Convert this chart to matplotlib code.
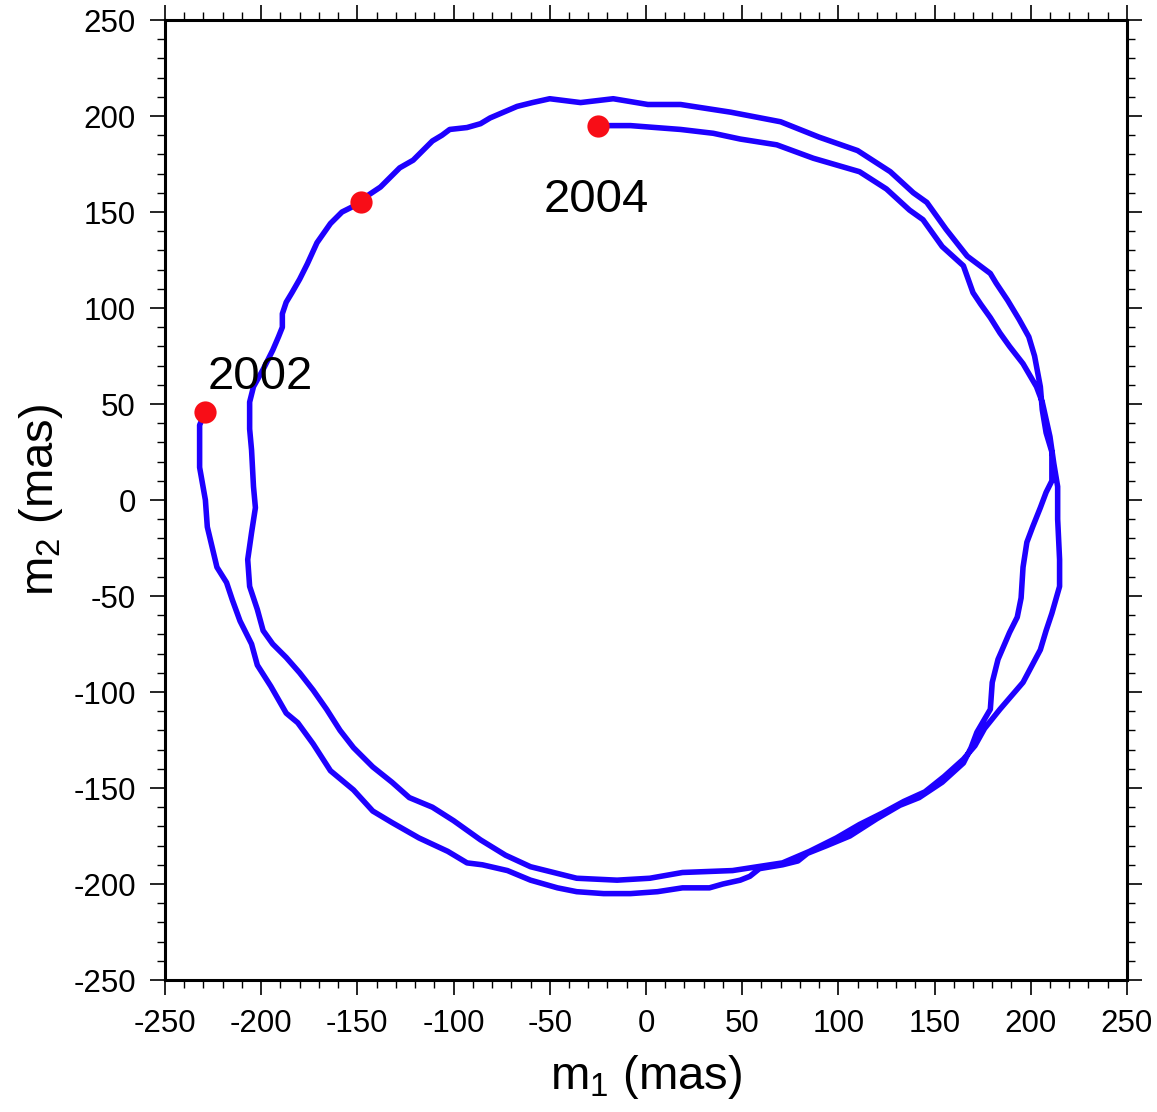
import numpy as np
import matplotlib.pyplot as plt
from matplotlib.ticker import MultipleLocator

plt.rcParams['font.family'] = ['Liberation Sans', 'DejaVu Sans']
plt.rcParams['mathtext.fontset'] = 'custom'
plt.rcParams['mathtext.rm'] = 'Liberation Sans'
plt.rcParams['mathtext.default'] = 'regular'
plt.rcParams['axes.unicode_minus'] = False

# polar motion path, first loop: 2002 -> 2003 (mas)
m1_a = [-229, -232, -232, -232, -229, -228, -223, -218, -215, -211, -205, -202,
        -195, -187, -181, -173, -164, -152, -142, -132, -118, -103, -93, -85,
        -72, -60, -46, -36, -22, -8, 6, 19, 33, 40, 49, 54, 59, 71, 79, 84,
        94, 106, 120, 132, 142, 154, 165, 169, 172, 179, 180, 183, 189, 193,
        195, 196, 198, 201, 205, 208, 211, 211, 208, 206, 205, 202, 199, 194,
        188, 182, 179, 167, 156, 146, 139, 127, 110, 90, 70, 44, 18, 1, -17,
        -34, -50, -59, -67, -74, -81, -86, -93, -102, -106, -111, -116, -121,
        -128, -133, -138, -144, -148]
m2_a = [46, 39, 31, 17, 0, -14, -35, -43, -52, -63, -75, -86,
        -97, -111, -116, -127, -141, -151, -162, -168, -176, -183, -189, -190,
        -193, -198, -202, -204, -205, -205, -204, -202, -202, -200, -198, -196, -192, -190, -188, -184,
        -180, -175, -166, -159, -155, -147, -137, -129, -121, -109, -95, -83, -69, -61,
        -51, -35, -22, -14, -4, 4, 10, 25, 35, 47, 59, 75, 85, 94,
        104, 113, 118, 127, 141, 155, 160, 171, 182, 189, 197, 202, 206, 206, 209,
        207, 209, 207, 205, 202, 199, 196, 194, 193, 190, 187, 182, 177,
        173, 168, 163, 159, 155]

# second loop: 2003 -> 2004 (mas)
m1_b = [-148, -158, -164, -171, -176, -180, -184, -187, -189, -189, -191, -194,
        -199, -204, -206, -206, -205, -204, -203, -205, -207, -206, -202, -199,
        -194, -187, -180, -173, -166, -159, -152, -142, -132, -123, -111, -100,
        -86, -73, -60, -36, -15, 2, 19, 45, 58, 71, 85, 99, 111, 123, 134, 145,
        155, 165, 171, 176, 184, 196, 205, 208, 211, 213, 215, 215, 214, 214,
        212, 210, 206, 203, 196, 189, 184, 179, 174, 170, 165, 154, 144, 137,
        125, 111, 87, 68, 49, 35, 18, -8, -25]
m2_b = [155, 150, 144, 134, 123, 115, 108, 103, 97, 90, 85, 78,
        68, 59, 51, 37, 26, 7, -4, -17, -31, -45, -57, -68,
        -75, -82, -90, -99, -109, -120, -129, -139, -147, -155, -160, -167,
        -177, -185, -191, -197, -198, -197, -194, -193, -191, -189, -183, -176, -169, -163, -157, -152,
        -144, -135, -128, -119, -109, -95, -78, -68, -59, -52, -45, -31, -10, 7,
        19, 33, 51, 59, 71, 80, 87, 95, 102, 108, 122, 132, 146, 151,
        162, 171, 178, 185, 188, 191, 193, 195, 195]

# yearly epochs
year_m1 = [-229, -148, -25]
year_m2 = [46, 155, 195]
year_labels = ['2002', '2004']
label_m1 = [-228, -53]
label_m2 = [58, 150]

fig = plt.figure(figsize=(11.57, 11.12), dpi=100)
ax = fig.add_axes([0.1426, 0.1187, 0.8314, 0.8633])

ax.plot(m1_a + m1_b[1:], m2_a + m2_b[1:], color='#1e00ff', lw=4,
        solid_joinstyle='round', solid_capstyle='round', zorder=2)
ax.plot(year_m1, year_m2, 'o', color='#f80d17', ms=16, mec='none', zorder=3)
for lab, x, y in zip(year_labels, label_m1, label_m2):
    ax.text(x, y, lab, fontsize=34, ha='left', va='baseline')

ax.set_xlim(-250, 250)
ax.set_ylim(-250, 250)
ax.xaxis.set_major_locator(MultipleLocator(50))
ax.yaxis.set_major_locator(MultipleLocator(50))
ax.xaxis.set_minor_locator(MultipleLocator(10))
ax.yaxis.set_minor_locator(MultipleLocator(10))
ax.tick_params(which='both', direction='out', top=True, right=True,
               labelsize=22.5, pad=10)
ax.tick_params(which='major', length=11, width=1.2)
ax.tick_params(which='minor', length=5.5, width=1.0)
for s in ax.spines.values():
    s.set_linewidth(2.2)

ax.set_xlabel('m$_1$ (mas)', fontsize=34, labelpad=10)
ax.set_ylabel('m$_2$ (mas)', fontsize=34, labelpad=6)

fig.savefig('out.png', dpi=100)
